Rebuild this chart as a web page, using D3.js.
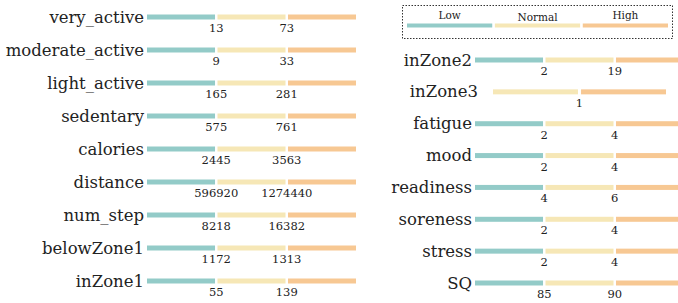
<!DOCTYPE html>
<html>
<head>
<meta charset="utf-8">
<script src="https://cdn.jsdelivr.net/npm/d3@7"></script>
<style>
  body { margin: 0; background: #fff; }
  svg text { font-family: "DejaVu Serif", serif; fill: #222; }
</style>
</head>
<body>
<div id="chart"></div>
<script>
// data
var levels = ["Low", "Normal", "High"];

var leftNames = ["very_active", "moderate_active", "light_active", "sedentary", "calories",
  "distance", "num_step", "belowZone1", "inZone1"];
var leftLow = [13, 9, 165, 575, 2445, 596920, 8218, 1172, 55];
var leftHigh = [73, 33, 281, 761, 3563, 1274440, 16382, 1313, 139];

var rightNames = ["inZone2", "inZone3", "fatigue", "mood", "readiness", "soreness", "stress", "SQ"];
var rightLow = [2, null, 2, 2, 4, 2, 2, 85];
var rightHigh = [19, 1, 4, 4, 6, 4, 4, 90];

var colors = ["#93cbc8", "#f6e7b6", "#f7c893"];

var svg = d3.select("#chart").append("svg")
  .attr("width", 678)
  .attr("height", 303)
  .attr("font-family", "'DejaVu Serif', serif");

var color = d3.scaleOrdinal().domain(levels).range(colors);

function drawPanel(names, lows, highs, opt) {
  var y = d3.scalePoint().domain(names).range(opt.yRange);

  names.forEach(function (name, i) {
    var g = svg.append("g").attr("transform", `translate(0, ${y(name)})`);
    var segs = lows[i] == null ? levels.slice(1) : levels;
    var range = lows[i] == null ? opt.shortRange : opt.xRange;
    var x = d3.scaleBand().domain(segs).range(range).paddingInner(0.035);

    g.selectAll("rect")
      .data(segs)
      .enter()
      .append("rect")
      .attr("x", d => x(d))
      .attr("y", -2.5)
      .attr("width", x.bandwidth())
      .attr("height", 5)
      .attr("fill", d => color(d));

    g.append("text")
      .attr("x", lows[i] == null ? range[0] - 15 : opt.labelX)
      .attr("y", 5.5)
      .attr("text-anchor", "end")
      .style("font-size", "16.5px")
      .text(name);

    // threshold values under the segment boundaries
    var cuts = [];
    if (lows[i] != null) cuts.push({ v: lows[i], x: x("Normal") - x.step() * x.paddingInner() / 2 });
    cuts.push({ v: highs[i], x: x("High") - x.step() * x.paddingInner() / 2 });

    g.selectAll(".val")
      .data(cuts)
      .enter()
      .append("text")
      .attr("class", "val")
      .attr("x", d => d.x)
      .attr("y", 15)
      .attr("text-anchor", "middle")
      .style("font-size", "11.5px")
      .text(d => d.v);
  });
}

drawPanel(leftNames, leftLow, leftHigh, {
  yRange: [17, 281], xRange: [147, 356], shortRange: [147, 356], labelX: 144
});

drawPanel(rightNames, rightLow, rightHigh, {
  yRange: [60, 283], xRange: [475, 684], shortRange: [493, 666], labelX: 472
});

// legend
var legend = svg.append("g");
legend.append("rect")
  .attr("x", 402.5).attr("y", 5.5)
  .attr("width", 270).attr("height", 33)
  .attr("fill", "none")
  .attr("stroke", "#333")
  .attr("stroke-dasharray", "1.5,1.5");

var lx = d3.scaleBand().domain(levels).range([407, 668]).paddingInner(0.03);
legend.selectAll("rect.key")
  .data(levels)
  .enter()
  .append("rect")
  .attr("class", "key")
  .attr("x", d => lx(d))
  .attr("y", 23.5)
  .attr("width", lx.bandwidth())
  .attr("height", 4)
  .attr("fill", d => color(d));

legend.selectAll("text")
  .data(levels)
  .enter()
  .append("text")
  .attr("x", d => lx(d) + lx.bandwidth() / 2)
  .attr("y", d => d == "Normal" ? 21 : 19)
  .attr("text-anchor", "middle")
  .style("font-size", "10.5px")
  .text(d => d);
</script>
</body>
</html>
